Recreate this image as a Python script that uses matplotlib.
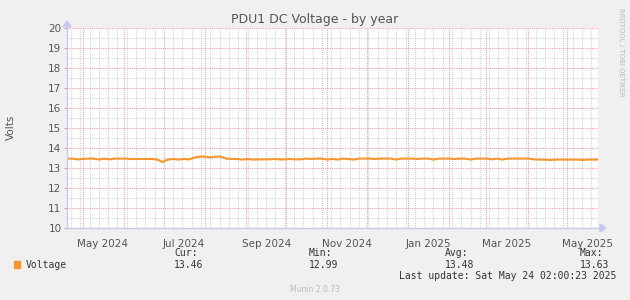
""" PDU1 DC Voltage - by year (munin style)
"""

import matplotlib
matplotlib.use('Agg')
import matplotlib.pyplot as plt
import matplotlib.dates as mdates
import pandas as pd

# data: one sample every 4 days starting 2024-04-19
start = '2024-04-19'
step_days = 4
voltage = [
    13.47, 13.47, 13.43, 13.45, 13.47, 13.47, 13.42, 13.47, 13.43, 13.47,
    13.47, 13.47, 13.45, 13.45, 13.45, 13.45, 13.45, 13.42, 13.30, 13.42,
    13.45, 13.42, 13.45, 13.43, 13.52, 13.57, 13.57, 13.53, 13.57, 13.57,
    13.47, 13.45, 13.45, 13.42, 13.45, 13.42, 13.43, 13.43, 13.43, 13.45,
    13.43, 13.43, 13.45, 13.43, 13.43, 13.47, 13.45, 13.47, 13.47, 13.42,
    13.45, 13.42, 13.47, 13.45, 13.42, 13.47, 13.47, 13.47, 13.45, 13.47,
    13.47, 13.47, 13.42, 13.47, 13.47, 13.47, 13.45, 13.47, 13.47, 13.42,
    13.47, 13.47, 13.47, 13.45, 13.47, 13.47, 13.42, 13.47, 13.47, 13.47,
    13.43, 13.47, 13.42, 13.47, 13.47, 13.47, 13.47, 13.47, 13.43, 13.42,
    13.42, 13.40, 13.42, 13.42, 13.42, 13.42, 13.42, 13.40, 13.42, 13.42,
    13.42,
]
series_name = 'Voltage'
stats_labels = ['Cur:', 'Min:', 'Avg:', 'Max:']
stats_values = ['13.46', '12.99', '13.48', '13.63']
month_labels = ['May 2024', 'Jul 2024', 'Sep 2024', 'Nov 2024',
                'Jan 2025', 'Mar 2025', 'May 2025']
label_dates = ['2024-05-16', '2024-07-16', '2024-09-16', '2024-11-16',
               '2025-01-16', '2025-03-16', '2025-05-16']
y_ticks = list(range(10, 21))


def main():
    dates = pd.date_range(start, periods=len(voltage), freq=f'{step_days}D')
    line_color = '#F7962E'
    bg = '#F0F0F0'
    text_color = '#555555'
    axis_color = '#C8C8F0'

    fig = plt.figure(figsize=(6.3, 3.0), dpi=100, facecolor=bg)
    ax = fig.add_axes([67 / 630, 1 - 228 / 300, 531 / 630, 200 / 300])
    ax.set_facecolor('white')

    ax.plot(dates, voltage, color=line_color, linewidth=1.5, zorder=3)

    ax.set_xlim(pd.Timestamp('2024-04-19'), pd.Timestamp('2025-05-24'))
    ax.set_ylim(10, 20)

    # grids: red dotted major, grey dotted minor
    ax.xaxis.set_major_locator(mdates.MonthLocator())
    ax.xaxis.set_minor_locator(mdates.WeekdayLocator(byweekday=mdates.MO))
    ax.set_yticks(y_ticks)
    ax.set_yticks([v + 0.5 for v in y_ticks[:-1]], minor=True)
    ax.grid(which='minor', color='#D2D2D2', linestyle=(0, (1, 1)), linewidth=0.8)
    ax.grid(which='major', color='#F0A0A0', linestyle=(0, (1, 1)), linewidth=0.8)
    ax.set_axisbelow(True)
    ax.set_xticklabels([])
    ax.tick_params(axis='x', which='both', length=0)
    ax.tick_params(axis='y', which='major', length=2, color='#B0B0B0',
                   labelsize=7.5, labelcolor=text_color, pad=2)
    ax.tick_params(axis='y', which='minor', length=0)

    # month labels centred in the month
    for lab, d in zip(month_labels, label_dates):
        ax.text(mdates.date2num(pd.Timestamp(d)), -0.055, lab,
                transform=ax.get_xaxis_transform(), ha='center', va='top',
                fontsize=7.5, color=text_color)

    for s in ax.spines.values():
        s.set_visible(False)

    # axes with arrows
    fig.add_artist(plt.Line2D([66 / 630, 603 / 630], [1 - 228 / 300] * 2,
                              color=axis_color, linewidth=1))
    fig.add_artist(plt.Line2D([67 / 630] * 2, [1 - 228 / 300, 1 - 24 / 300],
                              color=axis_color, linewidth=1))
    fig.patches.append(plt.Polygon(
        [[600 / 630, 1 - 224 / 300], [606 / 630, 1 - 228 / 300],
         [600 / 630, 1 - 232 / 300]],
        closed=True, color=axis_color, transform=fig.transFigure, figure=fig))
    fig.patches.append(plt.Polygon(
        [[63 / 630, 1 - 27 / 300], [67 / 630, 1 - 21 / 300],
         [71 / 630, 1 - 27 / 300]],
        closed=True, color=axis_color, transform=fig.transFigure, figure=fig))

    fig.text(315 / 630, 1 - 19 / 300, 'PDU1 DC Voltage - by year',
             ha='center', va='center', fontsize=9, color=text_color)
    fig.text(11 / 630, 1 - 127 / 300, 'Volts', rotation=90, ha='center',
             va='center', fontsize=7.5, color=text_color)
    fig.text(621 / 630, 1 - 52 / 300, 'RRDTOOL / TOBI OETIKER', rotation=270,
             ha='center', va='center', fontsize=5, color='#BBBBBB')

    # legend block
    mono = 'DejaVu Sans Mono'
    fig.patches.append(plt.Rectangle((14 / 630, 1 - 268 / 300), 6 / 630,
                                     7 / 300, color=line_color,
                                     transform=fig.transFigure, figure=fig))
    fig.text(26 / 630, 1 - 264.5 / 300, series_name, family=mono,
             fontsize=7, color='#333333', va='center')
    cols = [174, 309, 445, 580]
    for x, lab, val in zip(cols, stats_labels, stats_values):
        fig.text(x / 630, 1 - 253 / 300, lab, family=mono, fontsize=7,
                 color='#333333', va='center')
        fig.text(x / 630, 1 - 264.5 / 300, val, family=mono, fontsize=7,
                 color='#333333', va='center')
    fig.text(616 / 630, 1 - 276 / 300,
             'Last update: Sat May 24 02:00:23 2025', family=mono,
             fontsize=7, color='#333333', va='center', ha='right')
    fig.text(315 / 630, 1 - 289 / 300, 'Munin 2.0.73', ha='center',
             va='center', fontsize=5.5, color='#BBBBBB')

    fig.savefig('out.png', dpi=100, facecolor=bg)


if __name__ == '__main__':
    main()
